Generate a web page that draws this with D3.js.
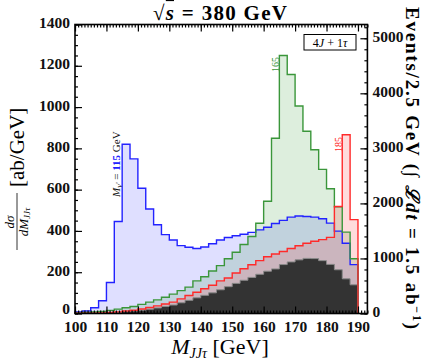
<!DOCTYPE html>
<html>
<head>
<meta charset="utf-8">
<script src="https://cdn.jsdelivr.net/npm/d3@7"></script>
<style>
  body { margin: 0; background: #fff; }
  text { font-family: 'Liberation Serif', 'DejaVu Serif', serif; }
</style>
</head>
<body>
<svg id="chart" width="436" height="360"></svg>
<script>
// lower edges of the 2.5 GeV bins
const binLo = [100, 102.5, 105, 107.5, 110, 112.5, 115, 117.5, 120, 122.5, 125, 127.5,
               130, 132.5, 135, 137.5, 140, 142.5, 145, 147.5, 150, 152.5, 155, 157.5,
               160, 162.5, 165, 167.5, 170, 172.5, 175, 177.5, 180, 182.5, 185, 187.5];
const binWidth = 2.5;

// dsigma/dM in ab/GeV
const sig115 = [8, 12, 28, 62, 150, 446, 820, 749, 607, 506, 430, 382,
                356, 329, 321, 315, 322, 338, 356, 368, 377, 384, 393, 405,
                418, 436, 451, 467, 472, 470, 467, 459, 438, 399, 340, 237];
const sig165 = [3, 5, 7, 10, 15, 21, 28, 34, 44, 55, 66, 79,
                94, 111, 128, 158, 178, 206, 232, 265, 297, 334, 373, 437,
                544, 849, 1250, 1158, 1005, 883, 793, 698, 604, 517, 394, 265];
const sig185 = [1, 2, 2, 3, 5, 8, 12, 16, 22, 29, 37, 46,
                55, 71, 87, 103, 120, 137, 158, 172, 196, 217, 236, 256,
                275, 288, 300, 315, 328, 340, 350, 358, 369, 518, 866, 455];
const bkg    = [1, 1, 2, 2, 4, 6, 9, 12, 16, 21, 27, 34,
                41, 52, 64, 76, 88, 100, 115, 130, 146, 161, 175, 190,
                205, 216, 237, 250, 260, 267, 266, 256, 238, 212, 168, 139];

const xTicks = [100, 110, 120, 130, 140, 150, 160, 170, 180, 190];
const yTicks = [0, 200, 400, 600, 800, 1000, 1200, 1400];
const evTicks = [0, 1000, 2000, 3000, 4000, 5000];
const lumi = 1.5; // ab^-1

const svg = d3.select('#chart');
const L = 75, R = 367.4, T = 24.5, B = 313.5;

const x = d3.scaleLinear().domain([100, 193]).range([L, R]);
const y = d3.scaleLinear().domain([0, 1400]).range([B, T]);
const yEv = d3.scaleLinear().domain([0, 1400 * binWidth * lumi]).range([B, T]);

// step outline, closed down to zero at both ends
function stepPts(vals) {
  let pts = [[binLo[0], 0]];
  binLo.forEach((b, i) => pts.push([b, vals[i]]));
  const last = binLo[binLo.length - 1] + binWidth;
  pts.push([last, vals[vals.length - 1]]);
  pts.push([last, 0]);
  return pts;
}
const stepLine = d3.line().x(d => x(d[0])).y(d => y(d[1])).curve(d3.curveStepAfter);

const series = [
  { vals: sig115, line: '#2222ff', fill: 'rgba(40,40,255,0.15)' },
  { vals: sig165, line: '#3a963a', fill: 'rgba(30,140,30,0.15)' },
  { vals: sig185, line: '#ff2a2a', fill: 'rgba(255,30,30,0.16)' }
];

const plot = svg.append('g');
series.forEach(s => {
  plot.append('path').attr('d', stepLine(stepPts(s.vals)) + 'Z')
    .attr('fill', s.fill).attr('stroke', 'none');
});
plot.append('path').attr('d', stepLine(stepPts(bkg)) + 'Z')
  .attr('fill', '#333').attr('stroke', '#8a8a8a').attr('stroke-width', 1);
series.forEach(s => {
  plot.append('path').attr('d', stepLine(stepPts(s.vals)))
    .attr('fill', 'none').attr('stroke', s.line).attr('stroke-width', 1.4);
});

// axes, ticks pointing inward
function styleAx(g) {
  g.select('.domain').remove();
  g.selectAll('line').attr('stroke', '#000').attr('stroke-width', 1.2);
  g.selectAll('text').attr('font-size', '15.5px').attr('font-weight', 'bold')
    .attr('fill', '#111').attr('font-family', "'Liberation Serif', serif");
}
svg.append('g').attr('transform', `translate(0,${B})`)
  .call(d3.axisBottom(x).tickValues(d3.range(100, 194, 1)).tickSize(-3).tickFormat(''))
  .call(styleAx);
svg.append('g').attr('transform', `translate(0,${B})`)
  .call(d3.axisBottom(x).tickValues(xTicks).tickSize(-7).tickPadding(7).tickFormat(d3.format('d')))
  .call(styleAx);
svg.append('g').attr('transform', `translate(0,${T})`)
  .call(d3.axisTop(x).tickValues(d3.range(100, 194, 1)).tickSize(-3).tickFormat(''))
  .call(styleAx);
svg.append('g').attr('transform', `translate(0,${T})`)
  .call(d3.axisTop(x).tickValues(xTicks).tickSize(-7).tickFormat(''))
  .call(styleAx);
svg.append('g').attr('transform', `translate(${L},0)`)
  .call(d3.axisLeft(y).tickValues(d3.range(0, 1401, 50)).tickSize(-3).tickFormat(''))
  .call(styleAx);
const yAx = svg.append('g').attr('transform', `translate(${L},0)`)
  .call(d3.axisLeft(y).tickValues(yTicks).tickSize(-7).tickPadding(5).tickFormat(d3.format('d')))
  .call(styleAx);
yAx.selectAll('text').attr('dy', d => d === 0 ? '0em' : '0.2em');
svg.append('g').attr('transform', `translate(${R},0)`)
  .call(d3.axisRight(yEv).tickValues(d3.range(0, 5251, 200)).tickSize(-3).tickFormat(''))
  .call(styleAx);
const evAx = svg.append('g').attr('transform', `translate(${R},0)`)
  .call(d3.axisRight(yEv).tickValues(evTicks).tickSize(-7).tickPadding(5).tickFormat(d3.format('d')))
  .call(styleAx);
evAx.selectAll('text').attr('dy', '0.2em');

svg.append('rect').attr('x', L).attr('y', T).attr('width', R - L).attr('height', B - T)
  .attr('fill', 'none').attr('stroke', '#000').attr('stroke-width', 1.6);

// title
const title = svg.append('text').attr('x', 220).attr('y', 20).attr('text-anchor', 'middle')
  .attr('font-size', '21px').attr('font-weight', 'bold')
  .attr('textLength', 134).attr('lengthAdjust', 'spacing');
title.append('tspan').text('\u221A');
title.append('tspan').attr('font-style', 'italic').attr('text-decoration', 'overline').text('s');
title.append('tspan').text(' = 380 GeV');

// legend box
svg.append('rect').attr('x', 304).attr('y', 34.5).attr('width', 52).attr('height', 15.5)
  .attr('fill', '#fff').attr('stroke', '#000').attr('stroke-width', 1);
const leg = svg.append('text').attr('x', 330).attr('y', 46.5).attr('text-anchor', 'middle')
  .attr('font-size', '12px');
leg.append('tspan').text('4');
leg.append('tspan').attr('font-style', 'italic').text('J');
leg.append('tspan').text(' + 1');
leg.append('tspan').attr('font-style', 'italic').text('\u03C4');

// peak labels
const m115 = svg.append('text').attr('transform', 'translate(120,197) rotate(-90)')
  .attr('font-size', '11px').attr('fill', '#111');
m115.append('tspan').attr('font-style', 'italic').text('M');
m115.append('tspan').attr('font-style', 'italic').attr('font-size', '8px').attr('dy', 2).text('\u03BD\u2032');
m115.append('tspan').attr('dy', -2).text(' = ');
m115.append('tspan').attr('fill', '#2222ff').attr('font-weight', 'bold').text('115');
m115.append('tspan').text(' GeV');

svg.append('text').attr('transform', 'translate(278.5,72) rotate(-90)')
  .attr('font-size', '10px').attr('fill', '#3a963a').text('165');
svg.append('text').attr('transform', 'translate(342,152) rotate(-90)')
  .attr('font-size', '10px').attr('fill', '#ff2a2a').text('185');

// x label
const xl = svg.append('text').attr('x', 220).attr('y', 354).attr('text-anchor', 'middle')
  .attr('font-size', '22px');
xl.append('tspan').attr('font-style', 'italic').text('M');
xl.append('tspan').attr('font-style', 'italic').attr('font-size', '14px').attr('dy', 4).text('JJ\u03C4');
xl.append('tspan').attr('dy', -4).text(' [GeV]');

// left y label: fraction + unit
const yl = svg.append('g').attr('transform', 'translate(17,175) rotate(-90)');
yl.append('text').attr('x', -47).attr('y', -3).attr('text-anchor', 'middle')
  .attr('font-size', '13px').attr('font-style', 'italic').text('d\u03C3');
yl.append('line').attr('x1', -75).attr('x2', -18).attr('y1', 0).attr('y2', 0)
  .attr('stroke', '#000').attr('stroke-width', 0.8);
const den = yl.append('text').attr('x', -47).attr('y', 11).attr('text-anchor', 'middle')
  .attr('font-size', '13px').attr('font-style', 'italic');
den.append('tspan').text('dM');
den.append('tspan').attr('font-size', '9px').attr('dy', 2).text('JJ\u03C4');
yl.append('text').attr('x', -12).attr('y', 7).attr('font-size', '21px').text('[ab/GeV]');

// right y label
const yr = svg.append('text').attr('transform', 'translate(406,168) rotate(90)')
  .attr('text-anchor', 'middle').attr('font-size', '19px').attr('font-weight', 'bold')
  .attr('textLength', 322).attr('lengthAdjust', 'spacing');
yr.append('tspan').text('Events/2.5 GeV (\u222B ');
yr.append('tspan').attr('font-style', 'italic').text('\u2112dt');
yr.append('tspan').text(' = 1.5 ab');
yr.append('tspan').attr('font-size', '12px').attr('dy', -7).text('\u22121');
yr.append('tspan').attr('dy', 7).text(')');
</script>
</body>
</html>
